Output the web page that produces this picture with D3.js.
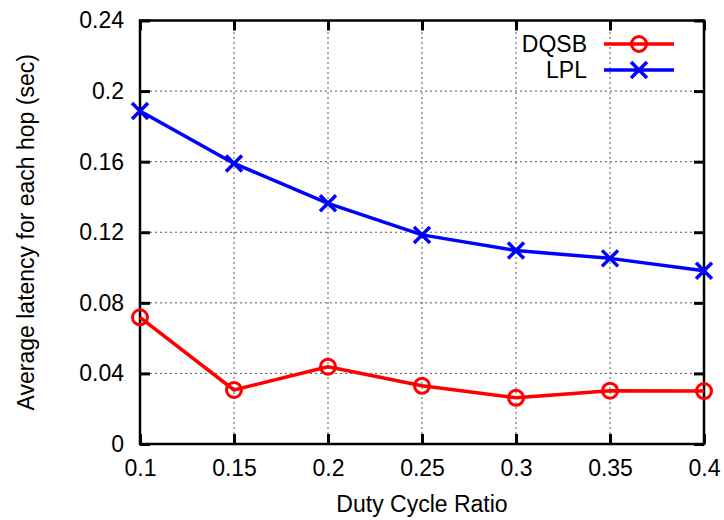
<!DOCTYPE html>
<html>
  <head>
    <title>Latency vs Duty Cycle</title>
    <script src="https://d3js.org/d3.v7.min.js"></script>
    <style>
      body, html {
        margin: 0;
        padding: 0;
        background: #fff;
      }
      svg text {
        font-family: 'Liberation Sans', Arial, sans-serif;
        fill: #000;
      }
      .grid line {
        stroke: #555;
        stroke-width: 1;
        stroke-dasharray: 2,3;
      }
    </style>
  </head>
  <body>
    <svg id="chart" width="724" height="520"></svg>
    <script>
      const dutyCycles = [0.1, 0.15, 0.2, 0.25, 0.3, 0.35, 0.4];
      const dqsbLatency = [0.0718, 0.0306, 0.0438, 0.0330, 0.0262, 0.0302, 0.0300];
      const lplLatency = [0.1887, 0.1590, 0.1364, 0.1185, 0.1096, 0.1052, 0.0982];
      const yTicks = [0, 0.04, 0.08, 0.12, 0.16, 0.2, 0.24];
      const seriesNames = ["DQSB", "LPL"];
      const seriesColors = ["#ff0000", "#0000ff"];

      const svg = d3.select("#chart");
      const margin = {left: 140, right: 20, top: 20.5, bottom: 76};
      const W = 724, H = 520;
      const x = d3.scaleLinear().domain([0.1, 0.4]).range([margin.left, W - margin.right]);
      const y = d3.scaleLinear().domain([0, 0.24]).range([H - margin.bottom, margin.top]);

      // grid
      const grid = svg.append("g").attr("class", "grid");
      grid.selectAll(".vx").data(dutyCycles.slice(1, -1)).enter().append("line")
        .attr("x1", d => x(d)).attr("x2", d => x(d))
        .attr("y1", y(0)).attr("y2", y(0.24));
      grid.selectAll(".hy").data(yTicks.slice(1, -1)).enter().append("line")
        .attr("x1", x(0.1)).attr("x2", x(0.4))
        .attr("y1", d => y(d)).attr("y2", d => y(d));

      // axes (inward ticks on all sides)
      const tickLen = 10;
      const fmt = d => d === 0 ? "0" : String(+d.toFixed(2));
      const axB = svg.append("g").attr("transform", `translate(0,${y(0)})`)
        .call(d3.axisBottom(x).tickValues(dutyCycles).tickSize(-tickLen).tickPadding(16).tickFormat(fmt));
      const axL = svg.append("g").attr("transform", `translate(${x(0.1)},0)`)
        .call(d3.axisLeft(y).tickValues(yTicks).tickSize(-tickLen).tickPadding(16).tickFormat(fmt));
      const axT = svg.append("g").attr("transform", `translate(0,${y(0.24)})`)
        .call(d3.axisTop(x).tickValues(dutyCycles).tickSize(-tickLen).tickFormat(""));
      const axR = svg.append("g").attr("transform", `translate(${x(0.4)},0)`)
        .call(d3.axisRight(y).tickValues(yTicks).tickSize(-tickLen).tickFormat(""));
      [axB, axL, axT, axR].forEach(a => {
        a.select(".domain").remove();
        a.selectAll(".tick line").attr("stroke", "#000").attr("stroke-width", 3);
        a.selectAll("text").style("font-size", "23px").attr("fill", "#000");
      });

      // frame
      svg.append("rect")
        .attr("x", x(0.1)).attr("y", y(0.24))
        .attr("width", x(0.4) - x(0.1)).attr("height", y(0) - y(0.24))
        .attr("fill", "none").attr("stroke", "#000").attr("stroke-width", 2.5);

      // axis labels
      svg.append("text")
        .attr("x", (x(0.1) + x(0.4)) / 2).attr("y", 512)
        .attr("text-anchor", "middle").style("font-size", "23px")
        .text("Duty Cycle Ratio");
      svg.append("text")
        .attr("transform", `translate(34,${(y(0) + y(0.24)) / 2}) rotate(-90)`)
        .attr("text-anchor", "middle").style("font-size", "23px")
        .text("Average latency for each hop (sec)");

      const line = d3.line().x((d, i) => x(dutyCycles[i])).y(d => y(d));

      function drawMarker(g, kind, cx, cy, color) {
        if (kind === 0) {
          g.append("circle").attr("cx", cx).attr("cy", cy).attr("r", 7.5)
            .attr("fill", "none").attr("stroke", color).attr("stroke-width", 3);
        } else {
          const s = 8;
          g.append("path")
            .attr("d", `M${cx - s},${cy - s}L${cx + s},${cy + s}M${cx - s},${cy + s}L${cx + s},${cy - s}`)
            .attr("stroke", color).attr("stroke-width", 3.5).attr("fill", "none");
        }
      }

      [dqsbLatency, lplLatency].forEach((vals, k) => {
        const g = svg.append("g");
        g.append("path").datum(vals)
          .attr("d", line).attr("fill", "none")
          .attr("stroke", seriesColors[k]).attr("stroke-width", 3.5)
          .attr("stroke-linejoin", "round");
        vals.forEach((v, i) => drawMarker(g, k, x(dutyCycles[i]), y(v), seriesColors[k]));
      });

      // legend
      const leg = svg.append("g");
      seriesNames.forEach((name, k) => {
        const ly = 44 + k * 26;
        leg.append("text").attr("x", 587).attr("y", ly).attr("dy", "0.35em")
          .attr("text-anchor", "end").style("font-size", "23px").text(name);
        leg.append("line").attr("x1", 604).attr("x2", 674).attr("y1", ly).attr("y2", ly)
          .attr("stroke", seriesColors[k]).attr("stroke-width", 3.5);
        drawMarker(leg, k, 639, ly, seriesColors[k]);
      });
    </script>
  </body>
</html>
